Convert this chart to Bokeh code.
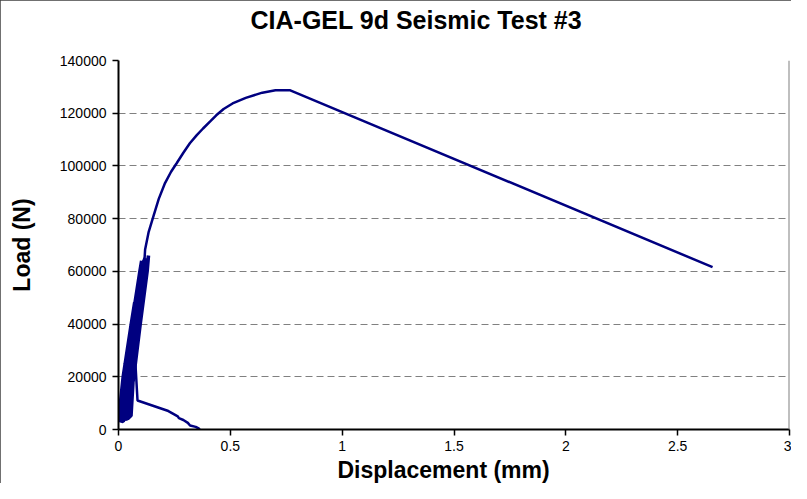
from bokeh.plotting import figure
from bokeh.models import Span, Title, FixedTicker
from bokeh.embed import file_html
from bokeh.resources import INLINE

title_text = "CIA-GEL 9d Seismic Test #3"
x_label = "Displacement (mm)"
y_label = "Load (N)"
x_ticks = [0, 0.5, 1, 1.5, 2, 2.5, 3]
x_tick_labels = ["0", "0.5", "1", "1.5", "2", "2.5", "3"]
y_ticks = [0, 20000, 40000, 60000, 80000, 100000, 120000, 140000]
y_tick_labels = ["0", "20000", "40000", "60000", "80000", "100000", "120000", "140000"]

# initial seating part
seat_disp = [0.363, 0.360, 0.345, 0.320, 0.310, 0.290, 0.270, 0.265, 0.223, 0.085, 0.075]
seat_load = [0, 300, 1000, 1500, 2500, 3600, 4300, 5000, 7000, 11000, 26000]

# load cycles (dense band)
cycle_disp = [
    0.001, 0.021, 0.030, 0.026, 0.005,
    0.009, 0.030, 0.051, 0.035, 0.013,
    0.017, 0.040, 0.073, 0.0445, 0.0215,
    0.001, 0.021, 0.057, 0.072, 0.063, 0.028, 0.007,
    0.026, 0.049, 0.081, 0.106, 0.085, 0.054, 0.030,
    0.011, 0.033, 0.067, 0.1025, 0.073, 0.040, 0.017,
    0.034, 0.059, 0.089, 0.121, 0.125, 0.1246, 0.093, 0.063, 0.038,
    0.0154, 0.0375, 0.071, 0.1024, 0.075, 0.0422, 0.0195,
    0.0387, 0.0642, 0.0938, 0.1127, 0.079, 0.0469, 0.0236,
    0.0059, 0.0266, 0.0618, 0.0981, 0.0702, 0.0365, 0.0145,
    0.0277, 0.0516, 0.083, 0.1161, 0.1188, 0.1195, 0.087, 0.0563, 0.0318,
    0.0289, 0.053, 0.0842, 0.1171, 0.0922, 0.0624, 0.0371,
    0.003, 0.0234, 0.059, 0.0957, 0.1035, 0.1008, 0.065, 0.0304, 0.0092,
    0.0182, 0.0407, 0.0738, 0.1083, 0.1146, 0.1151, 0.0818, 0.0501, 0.0264,
    0.0215, 0.0445, 0.077, 0.111, 0.1185, 0.097, 0.061, 0.026, 0.005,
    0.0359, 0.061, 0.091, 0.1229, 0.124, 0.1042, 0.069, 0.0351, 0.0133,
    0.042, 0.068, 0.097, 0.128, 0.134, 0.126, 0.095, 0.066, 0.056, 0.040,
]
cycle_load = [
    4000, 20000, 25000, 20000, 4000,
    3000, 20000, 32000, 20000, 4000,
    4000, 20000, 40000, 20000, 3000,
    3500, 20000, 40000, 48000, 40000, 20000, 4000,
    4000, 20000, 40000, 55000, 40000, 20000, 4000,
    3000, 20000, 40000, 60000, 40000, 20000, 4000,
    4000, 20000, 40000, 60000, 63000, 60000, 40000, 20000, 4000,
    4000, 20000, 40000, 58000, 40000, 20000, 4000,
    4000, 20000, 40000, 52000, 40000, 20000, 3500,
    4000, 20000, 40000, 60000, 40000, 20000, 4000,
    4000, 20000, 40000, 60000, 62000, 60000, 40000, 20000, 4000,
    4000, 20000, 40000, 60000, 40000, 20000, 4000,
    4000, 20000, 40000, 60000, 64000, 60000, 40000, 20000, 3000,
    4000, 20000, 40000, 60000, 64000, 60000, 40000, 20000, 4000,
    4000, 20000, 40000, 60000, 65000, 60000, 40000, 20000, 3500,
    4500, 20000, 40000, 60000, 61000, 60000, 40000, 20000, 4000,
    4500, 20000, 40000, 60000, 66000, 60000, 40000, 20000, 5300, 4000,
]

# final monotonic loading to failure
final_disp = [0.024, 0.047, 0.079, 0.113, 0.119, 0.135, 0.156, 0.180, 0.208, 0.235,
              0.260, 0.290, 0.319, 0.350, 0.378, 0.410, 0.437, 0.470, 0.510, 0.569,
              0.643, 0.702, 0.768, 2.656]
final_load = [4000, 20000, 40000, 60000, 68300, 75000, 80900, 87500, 93500, 97800,
              101000, 105000, 108600, 111700, 114200, 116900, 119200, 121600, 123700, 125800,
              127800, 128700, 128700, 61600]

FONT = "Liberation Sans"
NAVY = "#000080"

p = figure(width=791, height=483, x_range=(0, 3), y_range=(0, 140000),
           output_backend="svg", toolbar_location=None,
           min_border_left=118, min_border_right=2, min_border_top=60, min_border_bottom=52)
p.background_fill_color = "white"
p.border_fill_color = "white"
p.outline_line_color = None
p.styles = {"outline": "1px solid #404040", "outline-offset": "-1px"}

# seating segment joined to the first cycle point
p.line(seat_disp + cycle_disp[:1], seat_load + cycle_load[:1], line_color=NAVY, line_width=2.5)
# dense cycling band
p.line(cycle_disp, cycle_load, line_color=NAVY, line_width=3.6)
# final loading joined to the last cycle point
p.line(cycle_disp[-1:] + final_disp, cycle_load[-1:] + final_load, line_color=NAVY, line_width=2.5)

p.xaxis.ticker = FixedTicker(ticks=x_ticks)
p.xaxis.major_label_overrides = dict(zip(x_ticks, x_tick_labels))
p.yaxis.ticker = FixedTicker(ticks=y_ticks)
p.yaxis.major_label_overrides = dict(zip(y_ticks, y_tick_labels))

for ax in (p.xaxis, p.yaxis):
    ax.axis_line_color = "black"
    ax.axis_line_width = 2
    ax.major_tick_line_color = "black"
    ax.major_tick_line_width = 1.5
    ax.major_tick_out = 6
    ax.major_tick_in = 0
    ax.minor_tick_line_color = None
    ax.major_label_text_font = FONT
    ax.major_label_text_font_size = "14px"
    ax.major_label_text_color = "black"

p.xaxis.major_label_standoff = 5
p.yaxis.major_label_standoff = 6

p.yaxis.axis_label = y_label
p.yaxis.axis_label_text_font = FONT
p.yaxis.axis_label_text_font_size = "23px"
p.yaxis.axis_label_text_font_style = "bold"
p.yaxis.axis_label_text_color = "black"
p.yaxis.axis_label_standoff = 22

# spacer between frame and chart title, then the title itself
p.add_layout(Title(text=" ", text_font_size="1px", standoff=22), "above")
p.add_layout(Title(text=title_text, align="left", offset=132, standoff=4,
                   text_font=FONT, text_font_size="25px", text_font_style="bold",
                   text_color="black"), "above")

p.add_layout(Title(text=x_label, align="left", offset=219, standoff=2,
                   text_font=FONT, text_font_size="23px", text_font_style="bold",
                   text_color="black"), "below")

p.xgrid.visible = False
p.ygrid.grid_line_color = "#808080"
p.ygrid.grid_line_dash = "7 4"
p.ygrid.grid_line_width = 1.2

p.add_layout(Span(location=3, dimension="height", line_color="#808080", line_width=2))

open("out.html", "w").write(file_html(p, INLINE))
